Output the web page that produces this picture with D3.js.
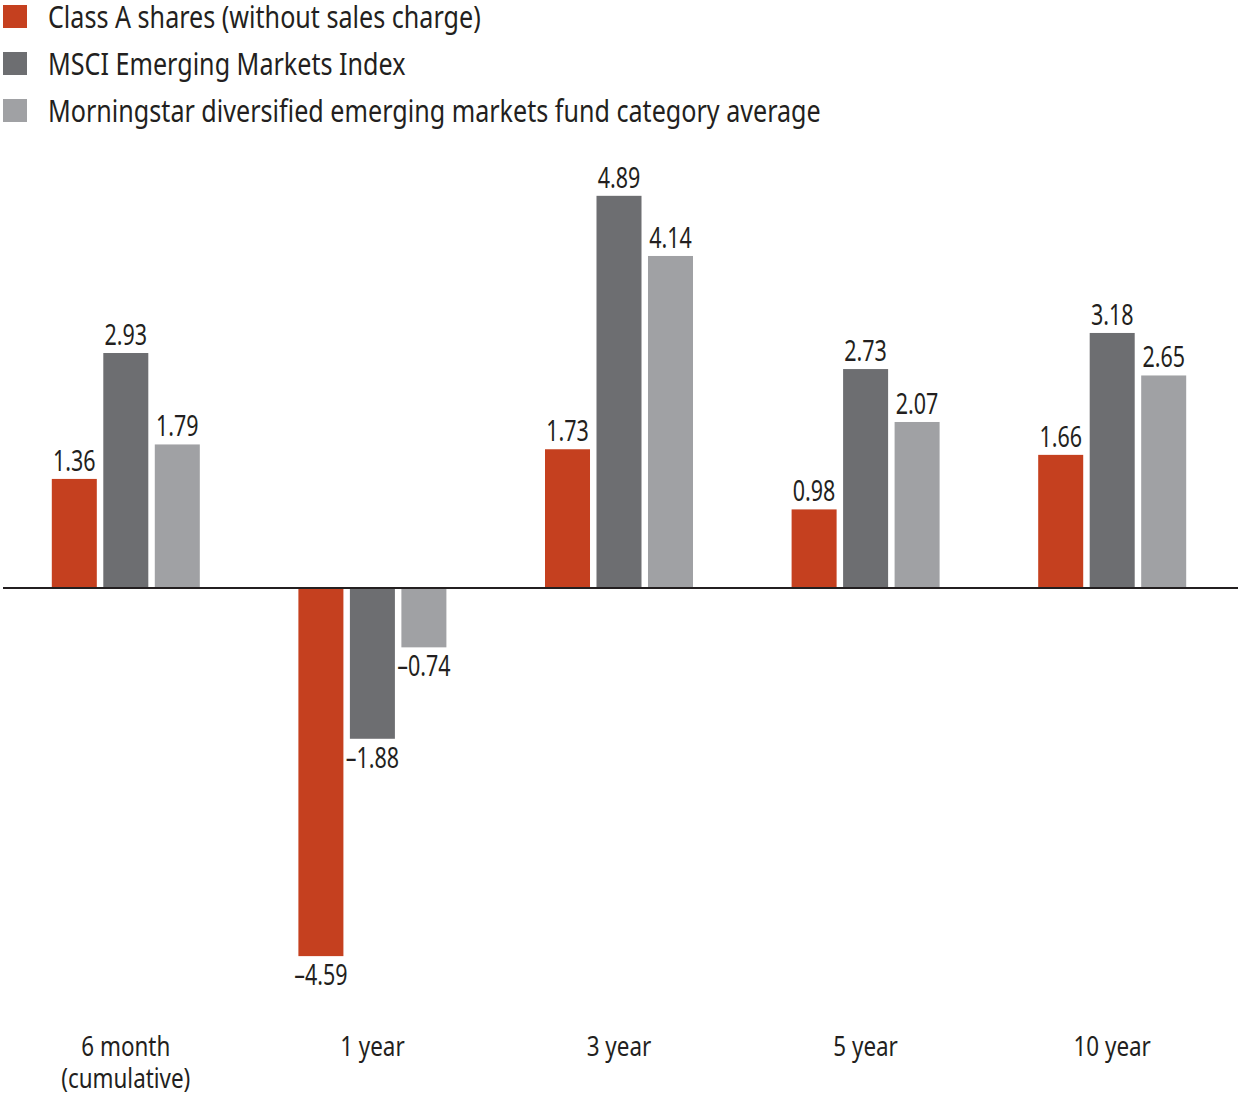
<!DOCTYPE html>
<html>
<head>
<meta charset="utf-8">
<script src="https://cdn.jsdelivr.net/npm/d3@7/dist/d3.min.js"></script>
<style>
  html, body { margin: 0; padding: 0; background: #fff; }
  svg { display: block; }
  text { font-family: "Noto Sans", "Open Sans", sans-serif; fill: #231f20; }
</style>
</head>
<body>
<svg id="chart" width="1238" height="1098"></svg>
<script>
const categories = ["6 month|(cumulative)", "1 year", "3 year", "5 year", "10 year"];
const seriesNames = [
  "Class A shares (without sales charge)",
  "MSCI Emerging Markets Index",
  "Morningstar diversified emerging markets fund category average"
];
const classA = [1.36, -4.59, 1.73, 0.98, 1.66];
const msci = [2.93, -1.88, 4.89, 2.73, 3.18];
const morningstar = [1.79, -0.74, 4.14, 2.07, 2.65];
const seriesColors = ["#c5401f", "#6d6e71", "#a0a1a4"];

const seriesValues = [classA, msci, morningstar];

const svg = d3.select("#chart");

// Horizontal condensing to mimic a condensed typeface
function condense(sel, k) {
  sel.each(function () {
    const len = this.getComputedTextLength();
    d3.select(this).attr("textLength", len * k).attr("lengthAdjust", "spacingAndGlyphs");
  });
}

const x0 = d3.scaleBand().domain(categories).range([2.5, 1235.5]).padding(0);
const x1 = d3.scaleBand().domain(seriesNames).range([-74, 74]).paddingInner(0.126).paddingOuter(0);
const y = d3.scaleLinear().domain([-5, 5]).range([989, 187]);

// Bars
const groups = svg.append("g").selectAll("g")
  .data(categories)
  .join("g")
  .attr("transform", d => `translate(${x0(d) + x0.bandwidth() / 2},0)`);

const cells = groups.selectAll("g.cell")
  .data((d, i) => seriesNames.map((s, j) => ({ series: s, j, value: seriesValues[j][i] })))
  .join("g").attr("class", "cell");

cells.append("rect")
  .attr("x", d => x1(d.series))
  .attr("width", x1.bandwidth())
  .attr("y", d => Math.min(y(d.value), y(0)))
  .attr("height", d => Math.abs(y(d.value) - y(0)))
  .attr("fill", d => seriesColors[d.j]);

const valueLabels = cells.append("text")
  .attr("x", d => x1(d.series) + x1.bandwidth() / 2)
  .attr("y", d => d.value >= 0 ? y(d.value) - 8 : y(d.value) + 29)
  .attr("text-anchor", "middle")
  .attr("font-size", 29)
  .text(d => d.value >= 0 ? d3.format(".2f")(d.value) : "\u2013" + d3.format(".2f")(-d.value));
condense(valueLabels, 0.74);

// Zero line
svg.append("line")
  .attr("x1", 3).attr("x2", 1238)
  .attr("y1", y(0)).attr("y2", y(0))
  .attr("stroke", "#231f20").attr("stroke-width", 2);

// Category labels
const catLines = categories.flatMap(c => c.split("|").map((t, i) => ({ c, t, i })));
const catLabels = svg.append("g").selectAll("text")
  .data(catLines)
  .join("text")
  .attr("x", d => x0(d.c) + x0.bandwidth() / 2)
  .attr("y", d => 1056 + d.i * 32)
  .attr("text-anchor", "middle")
  .attr("font-size", 27)
  .text(d => d.t);
condense(catLabels, 0.83);

// Legend
const legend = svg.append("g").selectAll("g")
  .data(seriesNames)
  .join("g")
  .attr("transform", (d, i) => `translate(3,${28 + i * 47})`);
legend.append("rect")
  .attr("y", -23)
  .attr("width", 24).attr("height", 23)
  .attr("fill", (d, i) => seriesColors[i]);
const legendText = legend.append("text")
  .attr("x", 45).attr("y", 0)
  .attr("font-size", 31)
  .text(d => d);
condense(legendText, 0.81);
</script>
</body>
</html>
